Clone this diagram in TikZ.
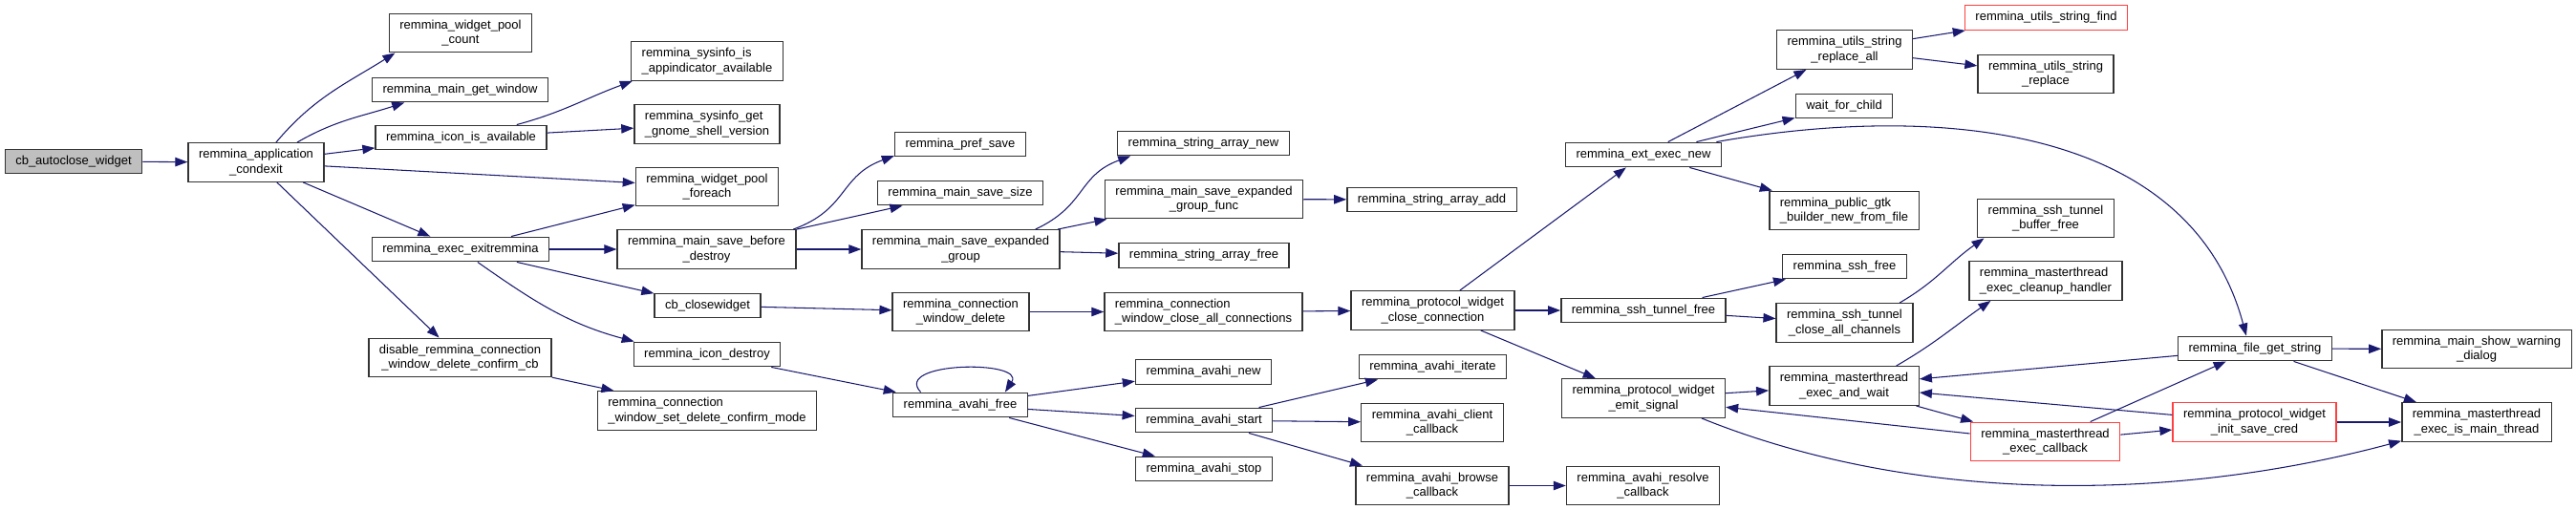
\documentclass[tikz,border=0pt]{standalone}
\usepackage{fontspec}
\setmainfont{Liberation Sans}
\usetikzlibrary{arrows.meta}
\definecolor{edgeblue}{HTML}{191970}
\definecolor{truncred}{HTML}{FF4040}

\begin{document}
\begin{tikzpicture}[
  fn/.style={
    rectangle, draw=black!80, line width=0.4pt, fill=white,
    minimum height=0.255cm, inner xsep=0.11cm, inner ysep=0.5pt,
    align=center, font=\fontsize{3.7pt}{4.4pt}\selectfont
  },
  fnn/.style={fn, minimum height=0.405cm},
  root/.style={fill=gray!50},
  trunc/.style={draw=truncred},
  call/.style={
    draw=edgeblue, line width=0.3pt,
    -{Triangle[length=0.13cm, width=0.095cm]}
  }
]
\useasboundingbox (0,0) rectangle (26.96,5.33);

% --- Caller and first level ---
\node[fn, root] (cbac)    at (0.77, 3.64) {cb\_autoclose\_widget};
\node[fnn]      (appexit) at (2.68, 3.63) {remmina\_application\\\_condexit};

\node[fnn] (poolcnt) at (4.82, 4.985) {remmina\_widget\_pool\\\_count};
\node[fn]  (getwin)  at (4.815, 4.39) {remmina\_main\_get\_window};
\node[fn]  (iconav)  at (4.825, 3.89) {remmina\_icon\_is\_available};
\node[fn]  (exitrem) at (4.82, 2.72)  {remmina\_exec\_exitremmina};
\node[fnn] (disconf) at (4.815, 1.585) {disable\_remmina\_connection\\\_window\_delete\_confirm\_cb};

% --- Third column ---
\node[fnn, align=left] (appind)  at (7.40, 4.69)  {remmina\_sysinfo\_is\\\_appindicator\_available};
\node[fnn, align=left] (gnome)   at (7.40, 4.03)  {remmina\_sysinfo\_get\\\_gnome\_shell\_version};
\node[fnn]             (poolfe)  at (7.40, 3.375) {remmina\_widget\_pool\\\_foreach};
\node[fnn]             (savebd)  at (7.395, 2.72) {remmina\_main\_save\_before\\\_destroy};
\node[fn]              (closew)  at (7.405, 2.13) {cb\_closewidget};
\node[fn]              (icondes) at (7.40, 1.62)  {remmina\_icon\_destroy};
\node[fnn, align=left] (setconf) at (7.40, 1.03)  {remmina\_connection\\\_window\_set\_delete\_confirm\_mode};

% --- Fourth column ---
\node[fn]  (prefsv)  at (10.05, 3.82)  {remmina\_pref\_save};
\node[fn]  (savesz)  at (10.05, 3.31)  {remmina\_main\_save\_size};
\node[fnn] (saveexp) at (10.055, 2.72) {remmina\_main\_save\_expanded\\\_group};
\node[fnn] (cwdel)   at (10.055, 2.065) {remmina\_connection\\\_window\_delete};
\node[fn]  (avfree)  at (10.05, 1.09)  {remmina\_avahi\_free};

% --- Fifth column ---
\node[fn]              (sanew)      at (12.595, 3.83)  {remmina\_string\_array\_new};
\node[fnn]             (expfunc)    at (12.60, 3.245)  {remmina\_main\_save\_expanded\\\_group\_func};
\node[fn]              (safree)     at (12.60, 2.655)  {remmina\_string\_array\_free};
\node[fnn, align=left] (cwcloseall) at (12.595, 2.065) {remmina\_connection\\\_window\_close\_all\_connections};
\node[fn]              (avnew)      at (12.595, 1.435) {remmina\_avahi\_new};
\node[fn]              (avstart)    at (12.60, 0.93)   {remmina\_avahi\_start};
\node[fn]              (avstop)     at (12.60, 0.42)   {remmina\_avahi\_stop};

% --- Sixth column ---
\node[fn]  (saadd)    at (14.985, 3.24) {remmina\_string\_array\_add};
\node[fnn] (pwclose)  at (14.995, 2.08) {remmina\_protocol\_widget\\\_close\_connection};
\node[fn]  (aviter)   at (14.995, 1.49) {remmina\_avahi\_iterate};
\node[fnn] (avclient) at (14.99, 0.905) {remmina\_avahi\_client\\\_callback};
\node[fnn] (avbrowse) at (14.99, 0.245) {remmina\_avahi\_browse\\\_callback};

% --- Seventh column ---
\node[fn]  (extexec)   at (17.20, 3.71)  {remmina\_ext\_exec\_new};
\node[fn]  (sshtfree)  at (17.20, 2.08)  {remmina\_ssh\_tunnel\_free};
\node[fnn] (emitsig)   at (17.20, 1.16)  {remmina\_protocol\_widget\\\_emit\_signal};
\node[fnn] (avresolve) at (17.195, 0.245) {remmina\_avahi\_resolve\\\_callback};

% --- Eighth column ---
\node[fnn]             (replall) at (19.305, 4.81) {remmina\_utils\_string\\\_replace\_all};
\node[fn]              (waitch)  at (19.30, 4.22)  {wait\_for\_child};
\node[fnn, align=left] (gtkbld)  at (19.30, 3.125) {remmina\_public\_gtk\\\_builder\_new\_from\_file};
\node[fn]              (sshfree) at (19.305, 2.54) {remmina\_ssh\_free};
\node[fnn]             (closech) at (19.305, 1.95) {remmina\_ssh\_tunnel\\\_close\_all\_channels};
\node[fnn]             (mtwait)  at (19.30, 1.29)  {remmina\_masterthread\\\_exec\_and\_wait};

% --- Ninth column ---
\node[fn, trunc]       (strfind) at (21.415, 5.145) {remmina\_utils\_string\_find};
\node[fnn]             (strrepl) at (21.41, 4.555)  {remmina\_utils\_string\\\_replace};
\node[fnn]             (bufree)  at (21.41, 3.045)  {remmina\_ssh\_tunnel\\\_buffer\_free};
\node[fnn, align=left] (cleanup) at (21.41, 2.39)   {remmina\_masterthread\\\_exec\_cleanup\_handler};
\node[fnn, trunc]      (mtcb)    at (21.405, 0.705) {remmina\_masterthread\\\_exec\_callback};

% --- Last columns ---
\node[fn]         (getstr)   at (23.60, 1.68)  {remmina\_file\_get\_string};
\node[fnn, trunc] (savecred) at (23.595, 0.91) {remmina\_protocol\_widget\\\_init\_save\_cred};
\node[fnn]        (warndlg)  at (25.92, 1.675) {remmina\_main\_show\_warning\\\_dialog};
\node[fnn]        (mainth)   at (25.92, 0.91)  {remmina\_masterthread\\\_exec\_is\_main\_thread};

% =========================================================
% Calls
% =========================================================
\draw[call] (cbac) -- (appexit);
\draw[call] (appexit.45) to[out=50, in=212] (poolcnt.197);
\draw[call] (appexit.26) to[out=30, in=198] (getwin.193);
\draw[call] (appexit) -- (iconav);
\draw[call] (appexit) -- (poolfe);
\draw[call] (appexit) -- (exitrem);
\draw[call] (appexit) -- (disconf);

\draw[call] (iconav.13) to[out=15, in=200] (appind.195);
\draw[call] (iconav) -- (gnome);
\draw[call] (exitrem) -- (poolfe);
\draw[call] (exitrem) -- (savebd);
\draw[call] (exitrem) -- (closew);
\draw[call] (exitrem.323) to[out=-35, in=165] (icondes.170);
\draw[call] (disconf) -- (setconf);

\draw[call] (savebd.13) to[out=20, in=200, looseness=1.2] (prefsv.190);
\draw[call] (savebd) -- (savesz);
\draw[call] (savebd) -- (saveexp);
\draw[call] (saveexp.15) to[out=25, in=200, looseness=1.2] (sanew.190);
\draw[call] (saveexp) -- (expfunc);
\draw[call] (saveexp) -- (safree);
\draw[call] (expfunc) -- (saadd);

\draw[call] (closew) -- (cwdel);
\draw[call] (cwdel) -- (cwcloseall);
\draw[call] (cwcloseall) -- (pwclose);

\draw[call] (icondes) -- (avfree);
\draw[call] (avfree.162) .. controls +(-0.3,0.32) and +(0.22,0.34) .. (avfree.16);
\draw[call] (avfree) -- (avnew);
\draw[call] (avfree) -- (avstart);
\draw[call] (avfree) -- (avstop);
\draw[call] (avstart) -- (aviter);
\draw[call] (avstart) -- (avclient);
\draw[call] (avstart) -- (avbrowse);
\draw[call] (avbrowse) -- (avresolve);

\draw[call] (pwclose) -- (extexec);
\draw[call] (pwclose) -- (sshtfree);
\draw[call] (pwclose) -- (emitsig);

\draw[call] (extexec) -- (replall);
\draw[call] (extexec) -- (waitch);
\draw[call] (extexec) -- (gtkbld);
\draw[call] (extexec.10) to[out=10, in=105] (getstr.124);
\draw[call] (replall) -- (strfind);
\draw[call] (replall) -- (strrepl);

\draw[call] (sshtfree) -- (sshfree);
\draw[call] (sshtfree) -- (closech);
\draw[call] (closech.20) to[out=30, in=215] (bufree.198);

\draw[call] (emitsig) -- (mtwait);
\draw[call] (emitsig.341) to[out=-22, in=195, looseness=0.85] (mainth.194);
\draw[call] (mtwait.21) to[out=30, in=215] (cleanup.200);
\draw[call] (mtwait) -- (mtcb);
\draw[call] (mtcb) -- (emitsig);
\draw[call] (mtcb) -- (getstr);
\draw[call] (mtcb) -- (savecred);
\draw[call] (getstr) -- (mtwait);
\draw[call] (getstr) -- (warndlg);
\draw[call] (getstr) -- (mainth);
\draw[call] (savecred) -- (mtwait);
\draw[call] (savecred) -- (mainth);

\end{tikzpicture}
\end{document}
